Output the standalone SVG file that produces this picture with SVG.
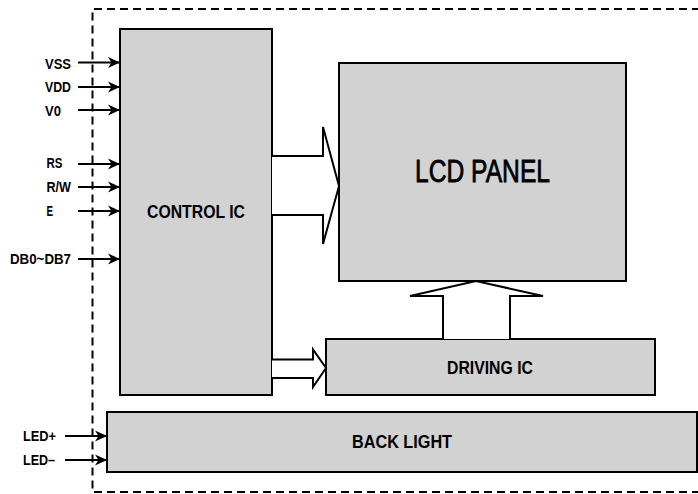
<svg xmlns="http://www.w3.org/2000/svg" width="698" height="494" viewBox="0 0 698 494">
<defs>
<style>
.box{fill:#d1d2d1;stroke:#000;stroke-width:2}
.lbl{font-family:"Liberation Sans",Arial,sans-serif;font-weight:bold;font-size:14.5px;fill:#000}
.big{font-family:"Liberation Sans",Arial,sans-serif;font-weight:bold;font-size:18.5px;fill:#000}
.wire{stroke:#000;stroke-width:2;fill:none}
.hollow{fill:#fff;stroke:#000;stroke-width:2;stroke-linejoin:miter}
</style>
<marker id="ah" viewBox="0 0 12 12" markerWidth="12" markerHeight="12" refX="12" refY="6" orient="auto" markerUnits="userSpaceOnUse">
<path d="M0,0.5 L12,6 L0,11.5 L3.5,6 z" fill="#000"/>
</marker>
</defs>
<rect width="698" height="494" fill="#fff"/>
<path d="M700 9 H92.5 V492 H700" fill="none" stroke="#000" stroke-width="2" stroke-dasharray="8,5"/>

<g id="control-ic"><rect class="box" x="120" y="29" width="152" height="366"/><text class="big" x="147" y="218" textLength="98" lengthAdjust="spacingAndGlyphs">CONTROL IC</text></g>
<g id="lcd-panel"><rect class="box" x="339" y="63" width="287" height="218"/><text x="415" y="182" font-family="Liberation Sans, Arial, sans-serif" font-size="31" stroke="#000" stroke-width="0.8" textLength="135" lengthAdjust="spacingAndGlyphs">LCD PANEL</text></g>
<g id="driving-ic"><rect class="box" x="326" y="339" width="329" height="56"/><text class="big" x="447" y="374" font-size="19" textLength="86" lengthAdjust="spacingAndGlyphs">DRIVING IC</text></g>
<g id="back-light"><rect class="box" x="107" y="412" width="590" height="60"/><text class="big" x="352" y="448" font-size="19" textLength="100" lengthAdjust="spacingAndGlyphs">BACK LIGHT</text></g>

<g id="labels">
<text class="lbl" x="45" y="69" textLength="26" lengthAdjust="spacingAndGlyphs">VSS</text>
<text class="lbl" x="45" y="92" textLength="26" lengthAdjust="spacingAndGlyphs">VDD</text>
<text class="lbl" x="45" y="115.5" textLength="16" lengthAdjust="spacingAndGlyphs">V0</text>
<text class="lbl" x="46.5" y="168" textLength="16" lengthAdjust="spacingAndGlyphs">RS</text>
<text class="lbl" x="46.5" y="192" textLength="24.5" lengthAdjust="spacingAndGlyphs">R/W</text>
<text class="lbl" x="46.5" y="216" textLength="6.5" lengthAdjust="spacingAndGlyphs">E</text>
<text class="lbl" x="10" y="264" textLength="61" lengthAdjust="spacingAndGlyphs">DB0~DB7</text>
<text class="lbl" x="23" y="441" textLength="33" lengthAdjust="spacingAndGlyphs">LED+</text>
<text class="lbl" x="23" y="465" textLength="32" lengthAdjust="spacingAndGlyphs">LED–</text>
</g>

<g id="connectors">
<line class="wire" x1="78" y1="62.5" x2="120" y2="62.5" marker-end="url(#ah)"/>
<line class="wire" x1="78" y1="87" x2="120" y2="87" marker-end="url(#ah)"/>
<line class="wire" x1="78" y1="110" x2="120" y2="110" marker-end="url(#ah)"/>
<line class="wire" x1="78" y1="164" x2="120" y2="164" marker-end="url(#ah)"/>
<line class="wire" x1="78" y1="187" x2="120" y2="187" marker-end="url(#ah)"/>
<line class="wire" x1="78" y1="211" x2="120" y2="211" marker-end="url(#ah)"/>
<line class="wire" x1="78" y1="259" x2="120" y2="259" marker-end="url(#ah)"/>
<line class="wire" x1="65" y1="436" x2="107" y2="436" marker-end="url(#ah)"/>
<line class="wire" x1="65" y1="460" x2="107" y2="460" marker-end="url(#ah)"/>
<path class="hollow" d="M272,156 H323 V127 L339,186 L323,244 V215 H272"/>
<path class="hollow" d="M272,359.5 H313 V349.5 L326,368 L313,387 V378 H272"/>
<path class="hollow" d="M443,339 V296 H410 L476,281 L543,296 H510 V339"/>
</g>
</svg>
